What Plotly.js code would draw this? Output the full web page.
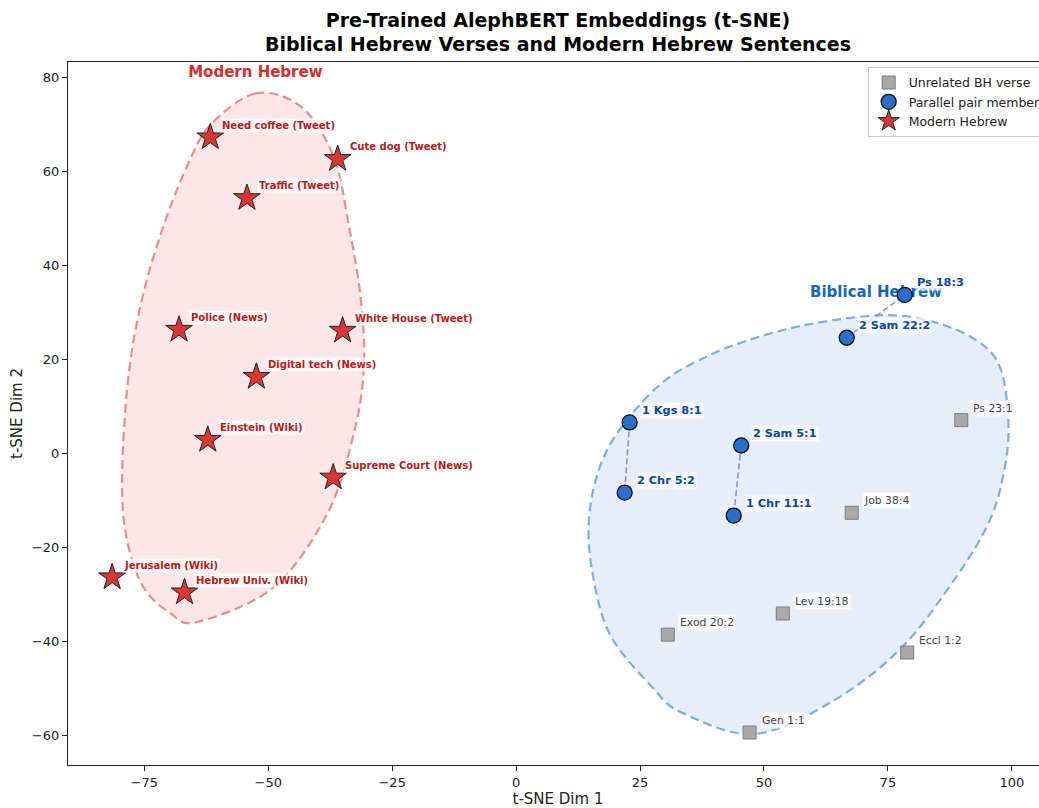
<!DOCTYPE html>
<html><head><meta charset="utf-8">
<script src="https://cdn.plot.ly/plotly-3.0.1.min.js"></script>
<style>html,body{margin:0;padding:0;overflow:hidden;background:#fff}#chart{width:1050px;height:808px}</style>
</head><body><div id="chart"></div><script>
// ---- data ----
const modernLabels = ['Need coffee (Tweet)','Cute dog (Tweet)','Traffic (Tweet)','Police (News)','White House (Tweet)','Digital tech (News)','Einstein (Wiki)','Supreme Court (News)','Jerusalem (Wiki)','Hebrew Univ. (Wiki)'];
const modernX = [-61.7,-36.0,-54.3,-68.0,-35.0,-52.4,-62.2,-36.9,-81.5,-66.9];
const modernY = [67.2,62.6,54.3,26.3,26.1,16.3,2.9,-5.1,-26.3,-29.5];

const parallelLabels = ['Ps 18:3','2 Sam 22:2','1 Kgs 8:1','2 Sam 5:1','2 Chr 5:2','1 Chr 11:1'];
const parallelX = [78.4,66.7,22.9,45.4,21.9,43.9];
const parallelY = [33.7,24.6,6.6,1.7,-8.3,-13.2];

const unrelatedLabels = ['Ps 23:1','Job 38:4','Exod 20:2','Lev 19:18','Eccl 1:2','Gen 1:1'];
const unrelatedX = [89.8,67.7,30.6,53.8,78.9,47.1];
const unrelatedY = [7.1,-12.6,-38.5,-34.0,-42.3,-59.3];

const pairLinks = [['1 Kgs 8:1','2 Chr 5:2'],['2 Sam 5:1','1 Chr 11:1'],['2 Sam 22:2','Ps 18:3']];

const groupTitles = ['Modern Hebrew','Biblical Hebrew'];
const groupTitleX = [-52.6,72.6];
const groupTitleY = [80.9,34.1];

// region outlines (read along the dashed boundaries)
const modernHullX = [-52.6,-43.4,-36.8,-33.7,-31.3,-30.7,-32.7,-38.0,-48.9,-64.3,-69.8,-75.2,-78.5,-79.5,-78.3,-75.5,-71.2,-66.4,-61.7];
const modernHullY = [76.5,73.7,63.1,48.2,32.6,18.4,4.4,-12.6,-28.4,-35.8,-33.9,-28.4,-18.4,-5.6,15.6,32.7,48.2,61.0,69.8];
const biblicalHullX = [21.9,30.1,40.1,50.3,60.4,74.0,84.1,92.8,97.6,99.3,98.6,95.6,88.8,78.0,64.4,48.2,33.5,27.4,18.8,15.2,14.8,17.2];
const biblicalHullY = [6.5,15.6,21.4,25.2,27.7,29.4,28.0,24.1,18.4,7.1,-2.9,-14.1,-26.2,-41.0,-52.3,-59.6,-55.1,-49.6,-38.2,-24.1,-12.6,-2.0];

// ---- helpers ----
function closedSplinePath(xs, ys){
  const n = xs.length;
  let p = 'M ' + xs[0] + ',' + ys[0];
  for (let i = 0; i < n; i++){
    const i0 = (i - 1 + n) % n, i1 = i, i2 = (i + 1) % n, i3 = (i + 2) % n;
    const c1x = xs[i1] + (xs[i2] - xs[i0]) / 6, c1y = ys[i1] + (ys[i2] - ys[i0]) / 6;
    const c2x = xs[i2] - (xs[i3] - xs[i1]) / 6, c2y = ys[i2] - (ys[i3] - ys[i1]) / 6;
    p += ' C ' + c1x + ',' + c1y + ' ' + c2x + ',' + c2y + ' ' + xs[i2] + ',' + ys[i2];
  }
  return p + ' Z';
}

const FONT = 'DejaVu Sans, Liberation Sans, sans-serif';
const RED_MARK = '#D93636', BLUE_MARK = '#2A6FCB', GRAY_MARK = '#A9A9A9';
const RED_TXT = '#B71C1C', BLUE_TXT = '#0D47A1', GRAY_TXT = '#444444';

const traces = [];
pairLinks.forEach(pr => {
  const a = parallelLabels.indexOf(pr[0]), b = parallelLabels.indexOf(pr[1]);
  traces.push({x:[parallelX[a], parallelX[b]], y:[parallelY[a], parallelY[b]], mode:'lines', type:'scatter',
    line:{color:'rgba(110,110,255,0.75)', width:1.6, dash:'6px,3px'}, showlegend:false, hoverinfo:'skip'});
});
traces.push({x:groupTitleX, y:groupTitleY, text:groupTitles, mode:'text', type:'scatter', showlegend:false, hoverinfo:'skip',
  textposition:'middle center', textfont:{family:FONT, size:15, weight:'bold', color:['#D32F2F','#1565C0']}});
traces.push({x:unrelatedX, y:unrelatedY, mode:'markers', type:'scatter', name:'Unrelated BH verse',
  marker:{symbol:'square', size:13, color:GRAY_MARK, line:{color:'#7d7d7d', width:1}}});
traces.push({x:parallelX, y:parallelY, mode:'markers', type:'scatter', name:'Parallel pair member',
  marker:{symbol:'circle', size:15, color:BLUE_MARK, line:{color:'#111111', width:1.3}}});
traces.push({x:modernX, y:modernY, mode:'markers', type:'scatter', name:'Modern Hebrew',
  marker:{symbol:'star', size:20, color:RED_MARK, line:{color:'#222222', width:1}}});

const annotations = [];
function addLabels(xs, ys, labels, size, weight, color){
  labels.forEach((t, i) => annotations.push({x:xs[i], y:ys[i], text:t, showarrow:false, xanchor:'left', yanchor:'middle',
    xshift:10, yshift:12, bgcolor:'rgba(255,255,255,0.7)', borderpad:1,
    font:{family:FONT, size:size, weight:weight, color:color}}));
}
addLabels(modernX, modernY, modernLabels, 10, 'bold', RED_TXT);
addLabels(parallelX, parallelY, parallelLabels, 11.3, 'bold', BLUE_TXT);
addLabels(unrelatedX, unrelatedY, unrelatedLabels, 10.8, 'normal', GRAY_TXT);

const shapes = [
  {type:'path', xref:'x', yref:'y', layer:'below', path:closedSplinePath(modernHullX, modernHullY),
   fillcolor:'rgba(229,115,115,0.17)', line:{color:'rgba(229,115,115,0.8)', width:2.2, dash:'9px,5px'}},
  {type:'path', xref:'x', yref:'y', layer:'below', path:closedSplinePath(biblicalHullX, biblicalHullY),
   fillcolor:'rgba(100,150,220,0.16)', line:{color:'rgba(90,145,220,0.75)', width:2.2, dash:'9px,5px'}}
];

const axisCommon = {showline:true, linecolor:'#222', linewidth:1.2, mirror:true, ticks:'outside', ticklen:5,
  tickwidth:1, tickcolor:'#222', showgrid:false, zeroline:false, tickfont:{family:FONT, size:13, color:'#222'}};

const layout = {
  width:1050, height:808,
  margin:{l:68, r:2, t:62, b:43},
  paper_bgcolor:'#fff', plot_bgcolor:'#fff',
  font:{family:FONT},
  title:{text:'Pre-Trained AlephBERT Embeddings (t-SNE)<br>Biblical Hebrew Verses and Modern Hebrew Sentences',
    x:0.5, xref:'paper', xanchor:'center', y:0.967, yref:'container', yanchor:'middle',
    font:{family:FONT, size:19, weight:'bold', color:'#000'}},
  xaxis:Object.assign({}, axisCommon, {range:[-90.4,107.3], tickvals:[-75,-50,-25,0,25,50,75,100],
    title:{text:'t-SNE Dim 1', font:{family:FONT, size:15, color:'#222'}, standoff:12}}),
  yaxis:Object.assign({}, axisCommon, {range:[-66.2,83.2], tickvals:[-60,-40,-20,0,20,40,60,80],
    title:{text:'t-SNE Dim 2', font:{family:FONT, size:15, color:'#222'}, standoff:5}}),
  legend:{x:0.816, y:0.993, xanchor:'left', yanchor:'top', bgcolor:'rgba(255,255,255,0.85)', bordercolor:'#cccccc',
    borderwidth:1, font:{family:FONT, size:12.5, color:'#222'}, tracegroupgap:0},
  shapes:shapes, annotations:annotations, showlegend:true
};

Plotly.newPlot('chart', traces, layout, {displayModeBar:false, staticPlot:true});
</script></body></html>
